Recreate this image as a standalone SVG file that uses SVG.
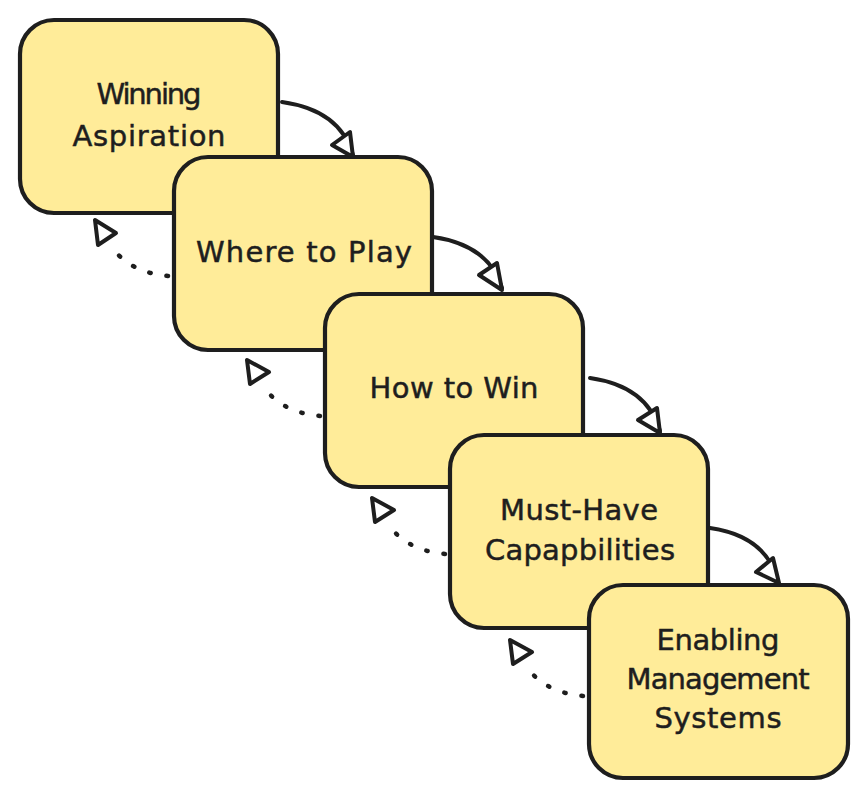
<svg xmlns="http://www.w3.org/2000/svg" width="867" height="798" viewBox="0 0 867 798">
<defs>
<style>
.box{fill:#ffec99;stroke:#1e1e1e;stroke-width:4.2;}
.lbl{font-family:"DejaVu Sans","Liberation Sans",sans-serif;font-size:29px;fill:#1e1e1e;stroke:#1e1e1e;stroke-width:0.5;text-anchor:middle;}
.solid{fill:none;stroke:#1e1e1e;stroke-width:4;stroke-linecap:round;}
.dot{fill:none;stroke:#1e1e1e;stroke-width:4.5;stroke-linecap:round;stroke-dasharray:1.5 16;}
.head{fill:#ffffff;stroke:#1e1e1e;stroke-width:4;stroke-linejoin:round;}
</style>
</defs>
<rect width="867" height="798" fill="#ffffff"/>
<g id="node-winning-aspiration">
<rect class="box" x="20" y="20" width="258" height="193" rx="34"/>
<text class="lbl" x="149" y="104" textLength="105">Winning</text>
<text class="lbl" x="149" y="146" textLength="153">Aspiration</text>
</g>
<g id="node-where-to-play">
<rect class="box" x="174" y="157" width="258" height="193" rx="34"/>
<text class="lbl" x="304" y="262" textLength="216">Where to Play</text>
</g>
<g id="node-how-to-win">
<rect class="box" x="325" y="294" width="258" height="193" rx="34"/>
<text class="lbl" x="454" y="398" textLength="169">How to Win</text>
</g>
<g id="node-must-have-capabilities">
<rect class="box" x="450" y="435" width="258" height="193" rx="34"/>
<text class="lbl" x="579" y="520" textLength="158">Must-Have</text>
<text class="lbl" x="580" y="560" textLength="190">Capapbilities</text>
</g>
<g id="node-enabling-management-systems">
<rect class="box" x="589" y="585" width="259" height="193" rx="34"/>
<text class="lbl" x="718" y="650" textLength="123">Enabling</text>
<text class="lbl" x="718" y="689" textLength="183">Management</text>
<text class="lbl" x="718" y="728" textLength="127">Systems</text>
</g>
<g id="connectors">
<path class="solid" d="M282,102 Q340,110 353,155"/>
<polygon class="head" points="353,157 332,145 350,132"/>
<path class="solid" d="M433,237 Q489,245 502,288"/>
<polygon class="head" points="502,290 479,275 497,263"/>
<path class="solid" d="M590,378 Q647,386 660,431"/>
<polygon class="head" points="660,433 638,420 657,408"/>
<path class="solid" d="M710,528 Q766,536 778,581"/>
<polygon class="head" points="779,583 756,572 773,558"/>
<path class="dot" d="M168,276 Q127,272 110,244"/>
<polygon class="head" points="95,220 98,245 116,233"/>
<path class="dot" d="M320,416 Q279,412 262,384"/>
<polygon class="head" points="247,360 250,384 269,372"/>
<path class="dot" d="M445,554 Q404,550 387,522"/>
<polygon class="head" points="372,498 375,522 394,510"/>
<path class="dot" d="M583,696 Q542,692 525,664"/>
<polygon class="head" points="510,640 513,664 532,652"/>
</g>
</svg>
